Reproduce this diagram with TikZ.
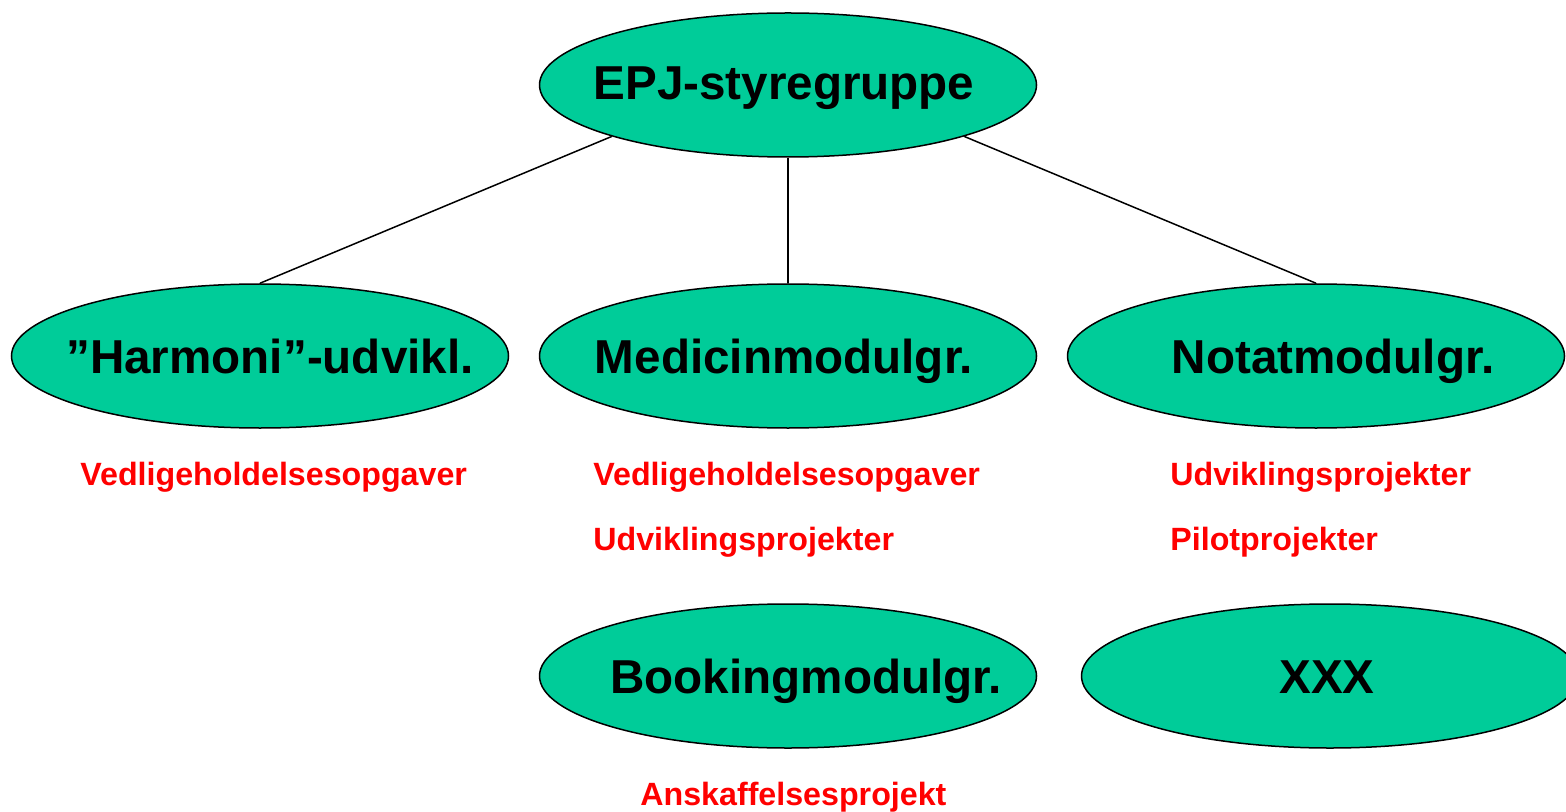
\documentclass[tikz,border=0pt]{standalone}
\usepackage{fontspec}
\setmainfont{Liberation Sans}
\usepackage{xcolor}
\usetikzlibrary{shapes.geometric}

\definecolor{groupGreen}{RGB}{0,204,153}

\tikzset{
  every groupNode/.style={ellipse, draw=black, line width=0.75pt, fill=groupGreen,
    minimum width=248.5pt, minimum height=72pt, inner sep=0pt},
  groupText/.style={anchor=base, inner sep=0pt, font=\fontsize{23.8}{28}\selectfont\bfseries},
  taskText/.style={anchor=base west, inner sep=0pt, text=red, font=\fontsize{16.1}{19}\selectfont\bfseries}
}

\begin{document}
\begin{tikzpicture}[x=0.5pt, y=-0.5pt]
\useasboundingbox (0,0) rectangle (1566,812);
\clip (0,0) rectangle (1566,812);

% ellipses
\node [every groupNode/.try] (top) at (788,85) {};

\foreach \m [count=\x from 0] in {harmoni,medicin,notat}
  \node [every groupNode/.try] (group-\m) at (260+\x*528,356) {};

\node [every groupNode/.try] (group-booking) at (788,676) {};
\node [every groupNode/.try] (group-xxx) at (1330,676) {};

% connectors
\draw [line width=0.75pt] (top.south west) -- (group-harmoni.north);
\draw [line width=0.75pt] (top.south) -- (group-medicin.north);
\draw [line width=0.75pt] (top.south east) -- (group-notat.north);

% names
\node [groupText] (label-top) at (784,100) {EPJ-styregruppe};

\foreach \m/\l/\c in {harmoni/{”Harmoni”-udvikl.}/270, medicin/Medicinmodulgr./784, notat/Notatmodulgr./1333}
  \node [groupText] (label-\m) at (\c,373) {\l};

\node [groupText] (label-booking) at (806,693) {Bookingmodulgr.};
\node [groupText] (label-xxx) at (1327,693) {XXX};

% tasks
\node [taskText] (task-harmoni) at (80,485) {Vedligeholdelsesopgaver};

\foreach \l [count=\y from 0] in {Vedligeholdelsesopgaver, Udviklingsprojekter}
  \node [taskText] (task-medicin-\y) at (593,485+\y*65) {\l};

\foreach \l [count=\y from 0] in {Udviklingsprojekter, Pilotprojekter}
  \node [taskText] (task-notat-\y) at (1170,485+\y*65) {\l};

\node [taskText] (task-booking) at (640,805) {Anskaffelsesprojekt};

\end{tikzpicture}
\end{document}
